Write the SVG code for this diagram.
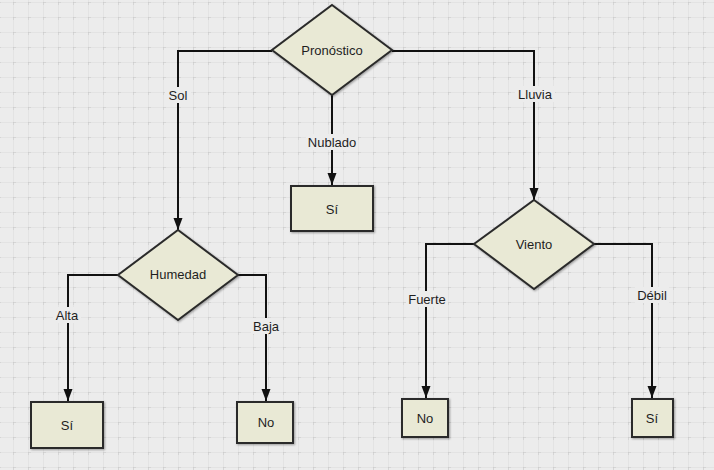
<svg xmlns="http://www.w3.org/2000/svg" width="714" height="470" viewBox="0 0 714 470">
<style>
.shape{fill:#e9e9d5;stroke:#2b2b2b;stroke-width:2;stroke-linejoin:miter}
.t{font-family:"Liberation Sans",Arial,sans-serif;font-size:13px;fill:#1e1e1e;text-anchor:middle;dominant-baseline:central}
.edge{fill:none;stroke:#111;stroke-width:2}
.lblbg{fill:#ececec}
</style>
<defs>
<pattern id="grid" x="13" y="2" width="15" height="15" patternUnits="userSpaceOnUse">
<rect width="15" height="15" fill="#ececec"/>
<path d="M0 0V15M0 0H15" stroke="#dadada" stroke-width="1"/>
<path d="M0 -3V3M-3 0H3" stroke="#c8c8c8" stroke-width="1"/>
</pattern>
<marker id="arr" viewBox="0 0 12 10" refX="12" refY="5" markerWidth="12" markerHeight="10" markerUnits="userSpaceOnUse" orient="auto">
<path d="M0 0.5L12 5L0 9.5z" fill="#111"/>
</marker>
<filter id="sh" x="-10%" y="-10%" width="130%" height="130%">
<feDropShadow dx="1" dy="1" stdDeviation="1" flood-color="#000" flood-opacity="0.35"/>
</filter>
</defs>
<rect width="714" height="470" fill="url(#grid)"/>

<g id="connectors">
<path class="edge" d="M272 51H178V230" marker-end="url(#arr)"/>
<path class="edge" d="M332 95V185" marker-end="url(#arr)"/>
<path class="edge" d="M392 51H534V200" marker-end="url(#arr)"/>
<path class="edge" d="M118 275H68V401" marker-end="url(#arr)"/>
<path class="edge" d="M238 275H266V401" marker-end="url(#arr)"/>
<path class="edge" d="M474 244H426V398" marker-end="url(#arr)"/>
<path class="edge" d="M594 244H652V398" marker-end="url(#arr)"/>
<g id="labels">
<rect class="lblbg" x="165" y="87" width="26" height="16"/><text class="t" x="178" y="95">Sol</text>
<rect class="lblbg" x="306" y="134" width="52" height="16"/><text class="t" x="332" y="142">Nublado</text>
<rect class="lblbg" x="515" y="86" width="40" height="16"/><text class="t" x="535" y="94">Lluvia</text>
<rect class="lblbg" x="53" y="307" width="28" height="16"/><text class="t" x="67" y="315">Alta</text>
<rect class="lblbg" x="251" y="318" width="30" height="16"/><text class="t" x="266" y="326">Baja</text>
<rect class="lblbg" x="406" y="291" width="42" height="16"/><text class="t" x="427" y="299">Fuerte</text>
<rect class="lblbg" x="635" y="287" width="34" height="16"/><text class="t" x="652" y="295">Débil</text>
</g>
</g>

<g id="pronostico">
<polygon class="shape" points="332,5 392,50 332,95 272,50" filter="url(#sh)"/>
<text class="t" x="332" y="50">Pronóstico</text>
</g>
<g id="si-nublado">
<rect class="shape" x="291" y="186" width="82" height="45" filter="url(#sh)"/>
<text class="t" x="332" y="209">Sí</text>
</g>
<g id="humedad">
<polygon class="shape" points="178,230 238,275 178,320 118,275" filter="url(#sh)"/>
<text class="t" x="178" y="274">Humedad</text>
</g>
<g id="viento">
<polygon class="shape" points="534,200 594,244 534,289 474,244" filter="url(#sh)"/>
<text class="t" x="534" y="244">Viento</text>
</g>
<g id="si-alta">
<rect class="shape" x="31" y="402" width="72" height="46" filter="url(#sh)"/>
<text class="t" x="67" y="425">Sí</text>
</g>
<g id="no-baja">
<rect class="shape" x="237" y="402" width="56" height="41" filter="url(#sh)"/>
<text class="t" x="266" y="422">No</text>
</g>
<g id="no-fuerte">
<rect class="shape" x="402" y="399" width="46" height="38" filter="url(#sh)"/>
<text class="t" x="425" y="418">No</text>
</g>
<g id="si-debil">
<rect class="shape" x="632" y="399" width="41" height="38" filter="url(#sh)"/>
<text class="t" x="652" y="418">Sí</text>
</g>
</svg>
